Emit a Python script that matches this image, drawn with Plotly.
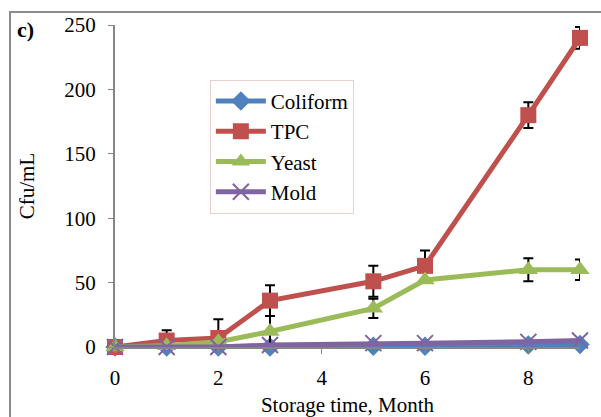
import plotly.graph_objects as go

months = [0, 1, 2, 3, 5, 6, 8, 9]
coliform = [0, 0, 0, 0, 0.5, 0.5, 1.5, 2]
tpc = [0, 5, 7, 36, 51, 63, 180, 240]
tpc_err = [0, 8, 14.5, 12, 12, 12, 10, 8.5]
yeast = [0, 1, 4, 12, 30, 52, 60, 60]
yeast_err = [0, 0, 0, 12, 7.5, 0, 9, 8]
mold = [0, 0, 0, 1.5, 3, 3, 4, 5]

x_ticks = [0, 2, 4, 6, 8]
y_ticks = [0, 50, 100, 150, 200, 250]

FONT = "Liberation Serif, Times New Roman, serif"

def err(vals):
    return dict(type="data", array=vals, visible=True, color="black",
                thickness=2, width=5)

fig = go.Figure()
fig.add_trace(go.Scatter(x=months, y=coliform, name="Coliform", mode="lines+markers",
                         line=dict(color="#4F81BD", width=5), cliponaxis=False,
                         marker=dict(symbol="diamond", size=15, color="#4F81BD")))
fig.add_trace(go.Scatter(x=months, y=tpc, name="TPC", mode="lines+markers",
                         line=dict(color="#C0504D", width=5), cliponaxis=False,
                         marker=dict(symbol="square", size=16, color="#C0504D"),
                         error_y=err(tpc_err)))
fig.add_trace(go.Scatter(x=months, y=yeast, name="Yeast", mode="lines+markers",
                         line=dict(color="#9BBB59", width=5), cliponaxis=False,
                         marker=dict(symbol="triangle-up", size=17, color="#9BBB59"),
                         error_y=err(yeast_err)))
fig.add_trace(go.Scatter(x=months, y=mold, name="Mold", mode="lines+markers",
                         line=dict(color="#8064A2", width=5), cliponaxis=False,
                         marker=dict(symbol="x-thin", size=16,
                                     line=dict(color="#8064A2", width=2))))

fig.update_layout(
    width=601, height=417,
    margin=dict(l=115, r=21, t=25, b=70),
    plot_bgcolor="white", paper_bgcolor="white",
    font=dict(family=FONT, size=21, color="black"),
    showlegend=True,
    legend=dict(x=0.204, y=0.83, xanchor="left", yanchor="top",
                bordercolor="#E8D0D0", borderwidth=1, bgcolor="white",
                itemwidth=50,
                font=dict(family=FONT, size=21), tracegroupgap=0),
    xaxis=dict(range=[0, 9], tickvals=x_ticks, ticktext=[str(v) for v in x_ticks],
               showgrid=False, zeroline=False, showline=True, linecolor="#868686",
               linewidth=2, ticks="outside", ticklen=5, tickcolor="#868686",
               automargin=False, ticklabelstandoff=6,
               title=dict(text="Storage time, Month", standoff=8,
                          font=dict(family=FONT, size=21))),
    yaxis=dict(range=[0, 250], tickvals=y_ticks, showgrid=False, zeroline=False,
               showline=True, linecolor="#868686", linewidth=2,
               ticks="outside", ticklen=5, tickcolor="#868686",
               automargin=False, ticklabelstandoff=8,
               title=dict(text="Cfu/mL", standoff=24,
                          font=dict(family=FONT, size=21))),
    shapes=[dict(type="rect", xref="paper", yref="paper",
                 x0=-0.2258, x1=2, y0=-1, y1=1.0404,
                 line=dict(color="#8C8C8C", width=2), layer="below")],
    annotations=[dict(text="<b>c)</b>", xref="paper", yref="paper",
                      x=-0.215, y=0.985, xanchor="left", yanchor="middle",
                      showarrow=False, font=dict(family=FONT, size=22))],
)

fig.write_html("out.html", config={"displayModeBar": False},
               post_script="document.body.style.margin='0';")
